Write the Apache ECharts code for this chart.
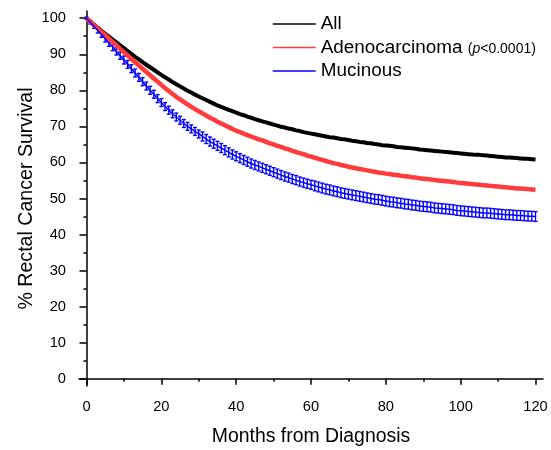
<!DOCTYPE html>
<html>
<head>
<meta charset="utf-8">
<script src="https://cdn.jsdelivr.net/npm/echarts@6/dist/echarts.min.js"></script>
<style>
  html, body { margin: 0; padding: 0; background: #fff; }
  #chart { width: 551px; height: 450px; }
</style>
</head>
<body>
<div id="chart"></div>
<script>
// survival (%) by month, 0..120
const allSurv = [
  100, 99.1, 98.2, 97.4, 96.5, 95.7, 94.9, 94.1, 93.3, 92.5, 91.7,
  90.9, 90.1, 89.3, 88.6, 87.8, 87.1, 86.4, 85.7, 85.0, 84.3,
  83.6, 83.0, 82.3, 81.7, 81.1, 80.5, 79.9, 79.4, 78.8, 78.3,
  77.8, 77.3, 76.8, 76.3, 75.8, 75.4, 75.0, 74.6, 74.2, 73.8,
  73.4, 73.1, 72.7, 72.4, 72.0, 71.7, 71.4, 71.1, 70.8, 70.5,
  70.2, 69.9, 69.7, 69.4, 69.2, 68.9, 68.7, 68.4, 68.2, 68.0,
  67.8, 67.6, 67.4, 67.2, 67.0, 66.9, 66.7, 66.5, 66.4, 66.2,
  66.0, 65.9, 65.7, 65.6, 65.4, 65.3, 65.1, 65.0, 64.8, 64.7,
  64.6, 64.5, 64.3, 64.2, 64.1, 64.0, 63.9, 63.8, 63.6, 63.5,
  63.4, 63.3, 63.2, 63.1, 63.0, 62.9, 62.8, 62.7, 62.6, 62.5,
  62.4, 62.3, 62.2, 62.1, 62.1, 62.0, 61.9, 61.8, 61.7, 61.6,
  61.5, 61.4, 61.4, 61.3, 61.2, 61.1, 61.0, 61.0, 60.9, 60.8
];
const adenoSurv = [
  100, 99.1, 98.1, 97.2, 96.2, 95.3, 94.4, 93.4, 92.5, 91.5, 90.6,
  89.7, 88.7, 87.8, 86.9, 86.0, 85.1, 84.2, 83.3, 82.4, 81.5,
  80.6, 79.8, 79.0, 78.2, 77.5, 76.8, 76.1, 75.4, 74.8, 74.2,
  73.6, 73.0, 72.4, 71.9, 71.3, 70.8, 70.3, 69.8, 69.3, 68.8,
  68.4, 68.0, 67.6, 67.2, 66.8, 66.4, 66.1, 65.7, 65.3, 65.0,
  64.6, 64.3, 63.9, 63.6, 63.2, 62.9, 62.6, 62.3, 61.9, 61.6,
  61.3, 61.0, 60.7, 60.4, 60.1, 59.8, 59.6, 59.3, 59.1, 58.8,
  58.6, 58.4, 58.2, 58.0, 57.8, 57.6, 57.4, 57.2, 57.1, 56.9,
  56.8, 56.6, 56.5, 56.3, 56.2, 56.1, 55.9, 55.8, 55.6, 55.5,
  55.4, 55.3, 55.1, 55.0, 54.9, 54.8, 54.7, 54.6, 54.4, 54.3,
  54.2, 54.1, 54.0, 53.9, 53.8, 53.7, 53.6, 53.5, 53.4, 53.3,
  53.2, 53.1, 53.0, 52.9, 52.8, 52.8, 52.7, 52.6, 52.5, 52.4
];
const mucSurv = [
  100, 98.9, 97.8, 96.6, 95.5, 94.3, 93.1, 92.0, 90.8, 89.6, 88.4,
  87.2, 86.0, 84.8, 83.6, 82.4, 81.2, 80.0, 78.9, 77.7, 76.6,
  75.5, 74.5, 73.5, 72.6, 71.7, 70.8, 70.0, 69.3, 68.6, 67.9,
  67.2, 66.5, 65.8, 65.2, 64.6, 64.0, 63.4, 62.8, 62.2, 61.7,
  61.2, 60.7, 60.2, 59.7, 59.3, 58.9, 58.5, 58.1, 57.7, 57.3,
  56.9, 56.5, 56.1, 55.8, 55.4, 55.1, 54.7, 54.4, 54.1, 53.8,
  53.5, 53.2, 52.9, 52.6, 52.4, 52.1, 51.9, 51.6, 51.4, 51.2,
  51.0, 50.8, 50.6, 50.4, 50.2, 50.0, 49.8, 49.7, 49.5, 49.3,
  49.1, 49.0, 48.8, 48.7, 48.5, 48.4, 48.2, 48.1, 47.9, 47.8,
  47.7, 47.6, 47.4, 47.3, 47.2, 47.1, 47.0, 46.9, 46.7, 46.6,
  46.5, 46.4, 46.3, 46.2, 46.1, 46.0, 46.0, 45.9, 45.8, 45.7,
  45.6, 45.5, 45.5, 45.4, 45.3, 45.3, 45.2, 45.1, 45.1, 45.0
];
// half width of the mucinous error bars
const mucErr = [
  0.3, 0.5, 0.6, 0.7, 0.8, 0.9, 0.9, 1.0, 1.0, 1.0, 1.1,
  1.1, 1.1, 1.1, 1.1, 1.1, 1.1, 1.1, 1.1, 1.1, 1.1,
  1.1, 1.1, 1.1, 1.1, 1.1, 1.1, 1.1, 1.1, 1.1, 1.1,
  1.25, 1.25, 1.25, 1.25, 1.25, 1.25, 1.25, 1.25, 1.25, 1.25,
  1.25, 1.25, 1.25, 1.25, 1.25, 1.25, 1.25, 1.25, 1.25, 1.25,
  1.25, 1.25, 1.25, 1.25, 1.25, 1.25, 1.25, 1.25, 1.25, 1.25,
  1.35, 1.35, 1.35, 1.35, 1.35, 1.35, 1.35, 1.35, 1.35, 1.35,
  1.35, 1.35, 1.35, 1.35, 1.35, 1.35, 1.35, 1.35, 1.35, 1.35,
  1.35, 1.35, 1.35, 1.35, 1.35, 1.35, 1.35, 1.35, 1.35, 1.35,
  1.35, 1.35, 1.35, 1.35, 1.35, 1.35, 1.35, 1.35, 1.35, 1.35,
  1.35, 1.35, 1.35, 1.35, 1.35, 1.35, 1.35, 1.35, 1.35, 1.35,
  1.35, 1.35, 1.35, 1.35, 1.35, 1.35, 1.35, 1.35, 1.35, 1.35
];
const xMajor = [0, 20, 40, 60, 80, 100, 120];
const xMinor = [10, 30, 50, 70, 90, 110];
const yMajor = [0, 10, 20, 30, 40, 50, 60, 70, 80, 90, 100];
const yMinor = [5, 15, 25, 35, 45, 55, 65, 75, 85, 95];

const font = 'Arial, "Liberation Sans", sans-serif';
const pairs = arr => arr.map((v, i) => [i, v]);
const errData = mucSurv.map((v, i) => [i, v - mucErr[i], v + mucErr[i]]);

const chart = echarts.init(document.getElementById('chart'));

const axisBase = {
  type: 'value',
  axisLine: { show: true, lineStyle: { color: '#000', width: 1.5 } },
  splitLine: { show: false }
};

chart.setOption({
  animation: false,
  grid: { left: 79, right: 8, top: 11, bottom: 64, outerBoundsMode: 'none' },
  legend: {
    orient: 'vertical',
    left: 272,
    top: 14.5,
    padding: 0,
    itemWidth: 43,
    itemHeight: 14,
    itemGap: 4.5,
    selectedMode: false,
    lineStyle: { width: 1.5 },
    itemStyle: { color: 'rgba(0,0,0,0)', borderWidth: 0, opacity: 0 },
    data: ['All', 'Adenocarcinoma', 'Mucinous'],
    formatter: function (name) {
      if (name === 'Adenocarcinoma') return 'Adenocarcinoma {s|(}{i|p}{s|<0.0001)}';
      return name;
    },
    textStyle: {
      fontFamily: font, fontSize: 18.9, color: '#000',
      rich: {
        s: { fontFamily: font, fontSize: 14, color: '#000', padding: [4, 0, 0, 0] },
        i: { fontFamily: font, fontSize: 14, color: '#000', fontStyle: 'italic', padding: [4, 0, 0, 0] }
      }
    }
  },
  xAxis: [
    Object.assign({}, axisBase, {
      min: -2, max: 122,
      name: 'Months from Diagnosis',
      nameLocation: 'middle',
      nameGap: 41,
      nameMoveOverlap: false,
      nameTextStyle: { fontFamily: font, fontSize: 19.4, color: '#000' },
      axisTick: { show: true, length: 6, customValues: xMajor, lineStyle: { color: '#000', width: 1.5 } },
      axisLabel: { customValues: xMajor, margin: 13, fontFamily: font, fontSize: 14.7, color: '#000' }
    }),
    Object.assign({}, axisBase, {
      min: -2, max: 122, position: 'bottom',
      axisLine: { show: false },
      axisTick: { show: true, length: 3, customValues: xMinor, lineStyle: { color: '#000', width: 1.5 } },
      axisLabel: { show: false }
    })
  ],
  yAxis: [
    Object.assign({}, axisBase, {
      min: -2, max: 102,
      name: '% Rectal Cancer Survival',
      nameLocation: 'middle',
      nameGap: 42,
      nameMoveOverlap: false,
      nameTextStyle: { fontFamily: font, fontSize: 19.6, color: '#000' },
      axisTick: { show: true, length: 7, customValues: yMajor, lineStyle: { color: '#000', width: 1.5 } },
      axisLabel: { customValues: yMajor, margin: 13, fontFamily: font, fontSize: 14.7, color: '#000' }
    }),
    Object.assign({}, axisBase, {
      min: -2, max: 102, position: 'left',
      axisLine: { show: false },
      axisTick: { show: true, length: 3, customValues: yMinor, lineStyle: { color: '#000', width: 1.5 } },
      axisLabel: { show: false }
    })
  ],
  series: [
    {
      name: 'All', type: 'line', data: pairs(allSurv), symbol: 'none',
      color: '#000', lineStyle: { color: '#000', width: 4 }
    },
    {
      name: 'Adenocarcinoma', type: 'line', data: pairs(adenoSurv), symbol: 'none',
      color: '#ff3b3b', lineStyle: { color: '#ff3b3b', width: 4.5 }
    },
    {
      name: 'Mucinous', type: 'line', data: pairs(mucSurv), symbol: 'none',
      color: '#0000ff', lineStyle: { color: '#0000ff', width: 1.5 }
    },
    {
      name: 'MucinousErr', type: 'custom', data: errData,
      renderItem: function (params, api) {
        const lo = api.coord([api.value(0), api.value(1)]);
        const hi = api.coord([api.value(0), api.value(2)]);
        const w = 2;
        const st = { stroke: '#0000ff', lineWidth: 1.4, fill: null };
        return {
          type: 'group',
          children: [
            { type: 'line', shape: { x1: lo[0], y1: lo[1], x2: hi[0], y2: hi[1] }, style: st },
            { type: 'line', shape: { x1: lo[0] - w, y1: lo[1], x2: lo[0] + w, y2: lo[1] }, style: st },
            { type: 'line', shape: { x1: hi[0] - w, y1: hi[1], x2: hi[0] + w, y2: hi[1] }, style: st }
          ]
        };
      },
      z: 3
    }
  ]
});
</script>
</body>
</html>
